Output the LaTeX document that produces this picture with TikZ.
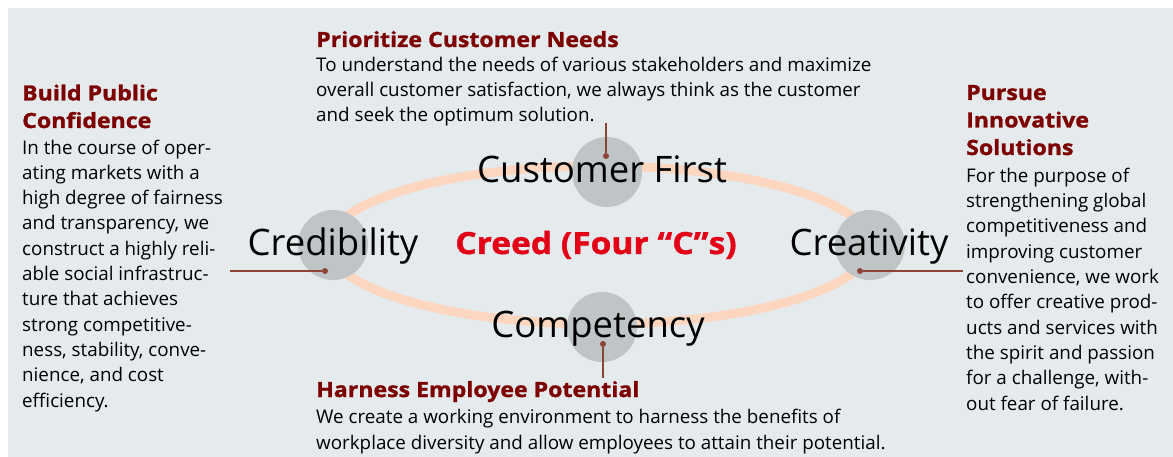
\documentclass[tikz,border=0pt]{standalone}
\usepackage{fontspec}
\setmainfont{Open Sans}
\newfontfamily\headfont[FakeStretch=1.1,FakeBold=1.2]{Open Sans}
\definecolor{bgc}{RGB}{229,234,237}
\definecolor{ringc}{RGB}{253,214,192}
\definecolor{discc}{RGB}{191,196,198}
\definecolor{headc}{RGB}{125,0,0}
\definecolor{creedc}{RGB}{227,0,22}
\definecolor{linkc}{RGB}{140,68,52}
\begin{document}
\begin{tikzpicture}[x=1pt,y=-1pt,
  disc/.style={circle,fill=discc,minimum size=70pt,inner sep=0pt},
  dot/.style={circle,fill=linkc,minimum size=6pt,inner sep=0pt},
  link/.style={draw=linkc,line width=1.4pt},
  biglabel/.style={anchor=base,inner sep=0pt,font=\fontsize{36.5}{40}\selectfont},
  head/.style={anchor=base west,inner sep=0pt,align=left,text=headc,font=\headfont\fontsize{21}{27.5}\selectfont\bfseries},
  body/.style={anchor=base west,inner sep=0pt,align=left,font=\fontsize{18.8}{25.3}\selectfont}]
\useasboundingbox (0,0) rectangle (1173,457);
\fill[bgc] (8,8) rectangle (1173,457);
\coordinate (E) at (599,245);
\draw[ringc,line width=9pt] (E) ellipse [x radius=271, y radius=79];
% discs
\node[disc] (d1) at (333,245) {};
\node[disc] (d2) at (607,172) {};
\node[disc] (d3) at (870,245) {};
\node[disc] (d4) at (602,327) {};
% labels
\node[biglabel] (l1) at (333,256) {Credibility};
\node[biglabel] (l2) at (602,183) {Customer First};
\node[biglabel] (l3) at (869,255) {Creativity};
\node[biglabel] (l4) at (598,337) {Competency};
\node[anchor=base,inner sep=0pt,text=creedc,font=\headfont\fontsize{30.5}{34}\selectfont\bfseries] (cr) at (596,254) {Creed (Four “C”s)};
% connectors
\node[dot] (p1) at (325,271) {};
\coordinate (q1) at (230,271);
\draw[link] (p1) -- (q1);
\node[dot] (p2) at (606,156) {};
\coordinate (q2) at (606,123);
\draw[link] (p2) -- (q2);
\node[dot] (p3) at (860,271) {};
\coordinate (q3) at (963,271);
\draw[link] (p3) -- (q3);
\node[dot] (p4) at (603,344) {};
\coordinate (q4) at (603,378);
\draw[link] (p4) -- (q4);
% headings (anchor at baseline of last line)
\node[head] (h1) at (22,128) {Build Public\\Confidence};
\node[head] (h2) at (316,47) {Prioritize Customer Needs};
\node[head] (h3) at (966,155) {Pursue\\Innovative\\Solutions};
\node[head] (h4) at (316,397) {Harness Employee Potential};
% bodies (anchor at baseline of last line)
\node[body] (b1) at (22,407) {In the course of oper-\\ating markets with a\\high degree of fairness\\and transparency, we\\construct a highly reli-\\able social infrastruc-\\ture that achieves\\strong competitive-\\ness, stability, conve-\\nience, and cost\\efficiency.};
\node[body] (b2) at (316,122) {To understand the needs of various stakeholders and maximize\\overall customer satisfaction, we always think as the customer\\and seek the optimum solution.};
\node[body] (b3) at (966,410) {For the purpose of\\strengthening global\\competitiveness and\\improving customer\\convenience, we work\\to offer creative prod-\\ucts and services with\\the spirit and passion\\for a challenge, with-\\out fear of failure.};
\node[body] (b4) at (316,449) {We create a working environment to harness the benefits of\\workplace diversity and allow employees to attain their potential.};
\end{tikzpicture}
\end{document}
